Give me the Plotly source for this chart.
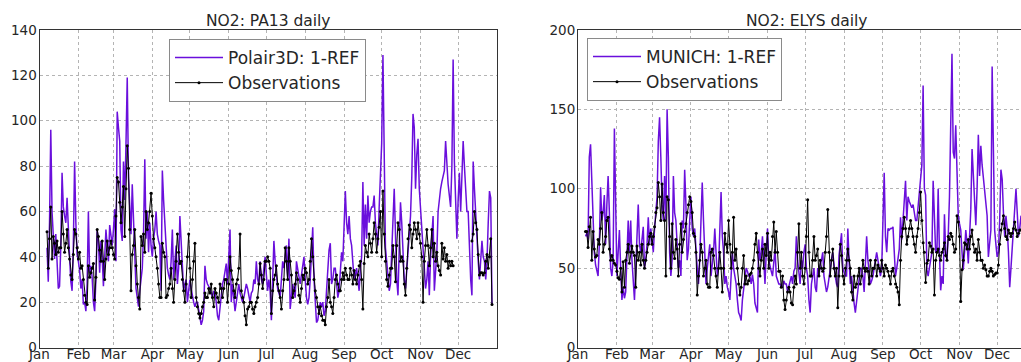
import pandas as pd
import plotly.graph_objects as go

# ---------------- data (daily NO2, first value on Jan 7) ----------------
months = ["Jan", "Feb", "Mar", "Apr", "May", "Jun", "Jul", "Aug", "Sep", "Oct", "Nov", "Dec"]
month_starts = ["2014-%02d-01" % m for m in range(1, 13)]
first_day = "2014-01-07"

pa13_model = [
    44, 29, 55, 96, 60, 47, 39, 50, 35, 26,
    27, 45, 77, 62, 58, 55, 66, 50, 40, 29,
    25, 45, 82, 55, 41, 38, 34, 26, 30, 19,
    20, 16, 28, 60, 33, 36, 31, 20, 16, 30,
    52, 47, 33, 47, 40, 27, 40, 52, 45, 38,
    54, 50, 45, 52, 61, 38, 104, 97, 91, 52,
    47, 82, 65, 90, 119, 75, 63, 50, 72, 58,
    38, 26, 22, 18, 25, 30, 35, 50, 83, 48,
    60, 42, 55, 45, 40, 48, 52, 60, 50, 47,
    45, 25, 78, 65, 55, 40, 35, 32, 30, 38,
    52, 30, 36, 45, 28, 35, 58, 48, 40, 25,
    28, 30, 20, 24, 30, 26, 22, 20, 18, 20,
    20, 16, 14, 10, 12, 16, 36, 30, 28, 27,
    26, 24, 22, 25, 24, 20, 14, 12, 18, 25,
    28, 30, 33, 37, 28, 40, 52, 20, 28, 22,
    16, 20, 25, 28, 24, 22, 20, 22, 25, 28,
    26, 22, 20, 24, 25, 30, 28, 38, 30, 28,
    38, 30, 28, 35, 40, 32, 25, 30, 25, 12,
    30, 47, 38, 30, 26, 24, 22, 30, 38, 35,
    42, 45, 30, 48, 17, 22, 28, 25, 22, 38,
    35, 32, 28, 32, 36, 40, 30, 22, 19, 22,
    30, 42, 53, 30, 20, 11, 12, 16, 20, 18,
    20, 14, 16, 25, 35, 43, 46, 28, 30, 35,
    35, 30, 22, 25, 32, 42, 38, 55, 69, 55,
    50, 58, 48, 45, 36, 30, 32, 35, 30, 25,
    35, 40, 73, 45, 63, 48, 67, 55, 60, 62,
    62, 67, 55, 48, 45, 62, 75, 90, 129, 80,
    44, 38, 30, 25, 28, 45, 62, 70, 50, 30,
    23, 45, 64, 55, 40, 30, 26, 35, 45, 52,
    58, 75, 103, 97, 70, 85, 92, 70, 60, 55,
    45, 35, 26, 30, 38, 23, 40, 50, 58, 25,
    35, 42, 60, 66, 70, 73, 75, 78, 91, 80,
    72, 67, 62, 80, 127, 82, 60, 48, 65, 77,
    60, 75, 91, 80, 70, 60, 60, 41, 30, 23,
    82, 70, 58, 45, 38, 30, 40, 47, 40, 38,
    30, 38, 55, 69, 66, 19,
]

pa13_obs = [
    51, 35, 48, 62, 39, 49, 46, 41, 47, 42,
    44, 44, 60, 50, 42, 46, 52, 44, 39, 32,
    30, 41, 52, 50, 44, 39, 42, 35, 36, 30,
    23, 20, 19, 36, 31, 33, 35, 37, 21, 31,
    52, 49, 43, 38, 47, 38, 30, 39, 47, 41,
    44, 47, 44, 41, 39, 58, 75, 73, 64, 55,
    62, 71, 49, 70, 89, 79, 52, 25, 41, 45,
    52, 36, 28, 22, 17, 49, 45, 50, 42, 60,
    52, 55, 60, 68, 58, 48, 44, 40, 35, 28,
    22, 22, 46, 42, 40, 22, 23, 26, 28, 35,
    26, 20, 30, 38, 50, 42, 37, 38, 30, 25,
    20, 28, 40, 50, 35, 22, 30, 38, 46, 22,
    18, 15, 13, 15, 18, 20, 24, 22, 22, 26,
    24, 28, 22, 18, 26, 24, 22, 20, 28, 26,
    22, 26, 30, 30, 20, 28, 40, 34, 30, 25,
    22, 28, 30, 35, 50, 25, 22, 20, 14, 10,
    17, 18, 20, 20, 17, 15, 18, 20, 22, 28,
    37, 32, 26, 30, 38, 38, 40, 38, 35, 15,
    25, 30, 32, 36, 28, 25, 22, 17, 25, 30,
    44, 38, 30, 44, 38, 32, 22, 25, 28, 33,
    30, 23, 20, 26, 32, 30, 35, 33, 28, 30,
    38, 48, 40, 30, 25, 22, 18, 15, 18, 14,
    12, 12, 10, 18, 22, 30, 20, 18, 15, 22,
    30, 32, 28, 25, 25, 30, 33, 30, 35, 32,
    30, 30, 35, 32, 28, 34, 30, 28, 32, 36,
    38, 30, 17, 37, 45, 42, 40, 50, 46, 42,
    48, 55, 50, 42, 48, 53, 60, 40, 69, 50,
    38, 30, 27, 32, 35, 35, 45, 40, 29, 45,
    55, 52, 38, 40, 38, 28, 23, 35, 48, 54,
    52, 44, 50, 55, 52, 48, 55, 50, 46, 40,
    20, 38, 45, 52, 45, 36, 44, 52, 40, 46,
    38, 42, 36, 34, 32, 46, 39, 44, 38, 41,
    35, 38, 36, 38, 36, None, None, None, None, None,
    None, None, None, None, None, None, None, None, None, 47,
    50, 60, 55, 52, 41, 32, 33, 33, 32, 33,
    38, 41, 35, 40, 48, 19,
]

elys_model = [
    70, 72, 68, 120, 128, 100, 75, 60, 52, 48,
    45, 65, 101, 80, 85, 96, 65, 90, 108, 85,
    50, 45, 55, 138, 80, 45, 60, 74, 50, 30,
    38, 31, 35, 55, 80, 60, 80, 55, 38, 30,
    50, 70, 90, 65, 60, 68, 76, 50, 55, 65,
    82, 65, 75, 68, 60, 75, 85, 95, 130, 145,
    120, 90, 80, 108, 80, 150, 120, 60, 45, 55,
    108, 85, 80, 60, 50, 55, 45, 80, 75, 112,
    90, 55, 62, 80, 95, 75, 70, 75, 60, 50,
    40, 55, 80, 104, 80, 55, 40, 50, 58, 65,
    45, 52, 60, 75, 55, 45, 50, 74, 98, 70,
    60, 40, 45, 38, 35, 30, 45, 60, 50, 45,
    40, 30, 22, 20, 17, 30, 38, 45, 50, 48,
    45, 45, 40, 46, 40, 28, 25, 22, 68, 55,
    60, 70, 55, 40, 60, 75, 55, 50, 48, 45,
    55, 62, 45, 42, 40, 40, 38, 38, 42, 40,
    40, 35, 38, 42, 45, 40, 48, 50, 70, 55,
    45, 40, 55, 50, 60, 65, 50, 45, 30, 22,
    40, 45, 50, 38, 35, 50, 45, 52, 55, 60,
    45, 40, 35, 38, 45, 50, 55, 60, 50, 45,
    40, 38, 58, 65, 72, 50, 48, 45, 45, 75,
    55, 40, 45, 35, 28, 22, 30, 38, 45, 50,
    50, 45, 35, 50, 70, 55, 45, 40, 42, 45,
    50, 55, 60, 55, 50, 45, 50, 80, 110, 70,
    60, 75, 74, 75, 75, 76, 60, 45, 50, 55,
    62, 82, 68, 80, 90, 105, 80, 95, 92, 90,
    88, 90, 85, 80, 80, 90, 95, 105, 115, 165,
    100, 96, 49, 45, 50, 53, 60, 105, 83, 60,
    60, 100, 60, 36, 45, 40, 84, 60, 55, 70,
    95, 140, 185, 123, 119, 140, 112, 83, 78, 74,
    60, 49, 60, 74, 66, 53, 70, 87, 125, 106,
    90, 77, 100, 134, 108, 127, 115, 108, 100, 90,
    83, 57, 66, 74, 177, 110, 74, 65, 57, 60,
    80, 112, 106, 85, 70, 83, 75, 60, 38, 50,
    64, 80, 91, 100, 85, 70, 75, 83, 80, 70,
    60, 75, 65, 55, 60, 55,
]

elys_obs = [
    73, 73, 63, 76, 82, 55, 73, 62, 57, 58,
    68, 65, 75, 85, 60, 65, 70, 80, 82, 62,
    55, 58, 55, 53, 52, 48, 44, 43, 50, 35,
    54, 38, 55, 60, 65, 53, 60, 64, 60, 58,
    38, 64, 55, 60, 52, 65, 55, 50, 55, 60,
    65, 70, 72, 65, 70, 76, 85, 88, 104, 95,
    80, 103, 85, 80, 45, 95, 93, 70, 50, 78,
    60, 56, 68, 62, 45, 65, 78, 60, 68, 73,
    78, 85, 90, 95, 92, 85, 72, 70, 60, 33,
    45, 55, 65, 60, 45, 50, 55, 40, 38, 38,
    60, 62, 58, 50, 45, 38, 50, 60, 50, 35,
    50, 72, 65, 60, 80, 65, 50, 60, 82, 55,
    62, 50, 40, 33, 38, 50, 58, 40, 45, 40,
    42, 46, 47, 50, 55, 65, 72, 60, 50, 45,
    55, 62, 50, 65, 58, 72, 50, 60, 55, 70,
    79, 60, 73, 60, 48, 48, 38, 45, 30, 24,
    30, 35, 38, 35, 28, 27, 38, 45, 40, 60,
    78, 50, 60, 45, 40, 50, 70, 93, 60, 45,
    45, 55, 70, 55, 58, 62, 45, 55, 50, 48,
    50, 60, 70, 87, 60, 45, 55, 62, 50, 45,
    50, 25, 45, 65, 58, 45, 40, 50, 55, 62,
    55, 50, 35, 30, 45, 38, 40, 45, 50, 40,
    45, 55, 50, 48, 50, 48, 40, 55, 45, 50,
    50, 55, 45, 52, 50, 48, 55, 50, 45, 52,
    50, 48, 45, 40, 48, 50, 45, 40, 38, 35,
    27, 55, 70, 75, 82, 75, 65, 70, 75, 80,
    75, 70, 65, 60, 70, 75, 85, 98, 80, 66,
    60, 41, 53, 55, 66, 64, 60, 62, 33, 55,
    60, 62, 58, 55, 60, 62, 66, 58, 55, 70,
    68, 72, 70, 65, 60, 62, 83, 79, 70, 29,
    49, 55, 66, 65, 62, 68, 62, 70, 74, 65,
    60, 62, 55, 68, 60, 55, 55, 50, 52, 49,
    45, 45, 48, 50, 48, 45, 46, 47, 47, 52,
    65, 74, 78, 83, 75, 70, 68, 74, 72, 70,
    72, 75, 79, 74, 70, 72, 74, 74, 72, 70,
    68, 72, 70, 74, 72, 70,
]

left_yticks = [0, 20, 40, 60, 80, 100, 120, 140]
right_yticks = [0, 50, 100, 150, 200]

# ---------------- figure ----------------
W, H = 1021, 362
FONT = "DejaVu Sans"
PURPLE = "#6a0fdc"
TXT = "#262626"


def dates(vals):
    return pd.date_range(first_day, periods=len(vals), freq="D")


fig = go.Figure()

fig.add_trace(go.Scatter(x=dates(pa13_model), y=pa13_model, mode="lines",
                         line=dict(color=PURPLE, width=1.5), name="Polair3D: 1-REF",
                         xaxis="x", yaxis="y", legend="legend", legendgroup="a"))
fig.add_trace(go.Scatter(x=dates(pa13_obs), y=pa13_obs, mode="lines+markers",
                         line=dict(color="black", width=1), marker=dict(size=3, color="black"),
                         name="Observations", connectgaps=False,
                         xaxis="x", yaxis="y", legend="legend", legendgroup="b"))
fig.add_trace(go.Scatter(x=dates(elys_model), y=elys_model, mode="lines",
                         line=dict(color=PURPLE, width=1.5), name="MUNICH: 1-REF",
                         xaxis="x2", yaxis="y2", legend="legend2", legendgroup="c"))
fig.add_trace(go.Scatter(x=dates(elys_obs), y=elys_obs, mode="lines+markers",
                         line=dict(color="black", width=1), marker=dict(size=3, color="black"),
                         name="Observations", connectgaps=False,
                         xaxis="x2", yaxis="y2", legend="legend2", legendgroup="d"))

ydom = [1 - 347.5 / H, 1 - 30 / H]
xdom1 = [39.5 / W, 497 / W]
xdom2 = [578 / W, 1.0]

grid = dict(showgrid=True, gridcolor="#b4b4b4", griddash="dot", gridwidth=1)
tickfont = dict(family=FONT, size=13.5, color=TXT)

xcommon = dict(tickmode="array", tickvals=month_starts, ticktext=months,
               tickfont=tickfont, showline=True, linecolor="#333333", linewidth=1,
               ticks="", zeroline=False, automargin=False, ticklabelstandoff=-6, **grid)
ycommon = dict(tickfont=tickfont, showline=True, linecolor="#333333", linewidth=1,
               ticks="", zeroline=False, tickmode="array", automargin=False,
               ticklabelstandoff=-1, **grid)

legend_common = dict(bgcolor="white", bordercolor="#8a8a8a", borderwidth=1,
                     font=dict(family=FONT, size=17, color=TXT),
                     xanchor="left", yanchor="top", tracegroupgap=0,
                     traceorder="grouped", itemwidth=48)

fig.update_layout(
    width=W, height=H,
    margin=dict(l=0, r=0, t=0, b=0),
    paper_bgcolor="white", plot_bgcolor="white",
    showlegend=True,
    xaxis=dict(domain=xdom1, anchor="y", mirror=True,
               range=["2014-01-01", "2015-01-01"], **xcommon),
    yaxis=dict(domain=ydom, anchor="x", mirror=True, range=[0, 140],
               tickvals=left_yticks, **ycommon),
    xaxis2=dict(domain=xdom2, anchor="y2", mirror=True,
                range=["2014-01-01", "2014-12-20"], **xcommon),
    yaxis2=dict(domain=ydom, anchor="x2", mirror=False, range=[0, 200],
                tickvals=right_yticks, **ycommon),
    legend=dict(x=169 / W, y=1 - 39 / H, **legend_common),
    legend2=dict(x=587 / W, y=1 - 38 / H, **legend_common),
    annotations=[
        dict(text="NO2: PA13 daily", x=(xdom1[0] + xdom1[1]) / 2, y=ydom[1],
             xref="paper", yref="paper", xanchor="center", yanchor="bottom",
             showarrow=False, yshift=-2, font=dict(family=FONT, size=15.5, color=TXT)),
        dict(text="NO2: ELYS daily", x=807 / W, y=ydom[1],
             xref="paper", yref="paper", xanchor="center", yanchor="bottom",
             showarrow=False, yshift=-2, font=dict(family=FONT, size=15.5, color=TXT)),
    ],
)

fig.write_html("out.html", config={"displayModeBar": False},
               post_script="document.body.style.margin='0';document.body.style.overflow='hidden';")
